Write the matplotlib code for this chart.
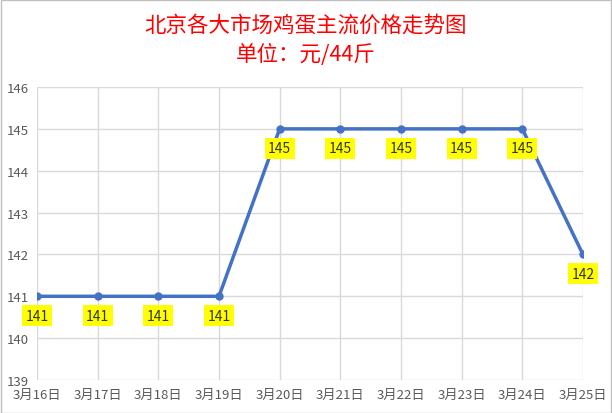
import matplotlib.pyplot as plt
from matplotlib.patches import Rectangle

plt.rcParams['font.family'] = ['Noto Sans CJK SC', 'DejaVu Sans']

dates = ["3月16日", "3月17日", "3月18日", "3月19日", "3月20日",
         "3月21日", "3月22日", "3月23日", "3月24日", "3月25日"]
prices = [141, 141, 141, 141, 145, 145, 145, 145, 145, 142]
yticks = [139, 140, 141, 142, 143, 144, 145, 146]

fig = plt.figure(figsize=(6.12, 4.14), dpi=100)
ax = fig.add_axes([0.0605, 0.0797, 0.892, 0.7077])

x = list(range(len(dates)))
ax.plot(x, prices, color="#4472C4", lw=2.5, marker="o", ms=5, zorder=3)

for xi, v in zip(x, prices):
    ax.annotate(str(v), (xi, v), xytext=(0, -14), textcoords="offset points",
                ha="center", va="center", fontsize=10, color="#333333",
                bbox=dict(boxstyle="square,pad=0.25", fc="#FFFF00", ec="none"),
                zorder=4)

ax.set_xlim(0, len(dates) - 1)
ax.set_ylim(139, 146)
ax.set_xticks(x)
ax.set_xticklabels(dates)
ax.set_yticks(yticks)
ax.grid(True, color="#D9D9D9", lw=1)
for s in ax.spines.values():
    s.set_visible(False)
ax.tick_params(length=0, labelsize=9.5, colors="#595959", pad=6)

fig.text(0.5, 0.937, "北京各大市场鸡蛋主流价格走势图", ha="center", va="center",
         fontsize=15.5, color="red")
fig.text(0.5, 0.867, "单位：元/44斤", ha="center", va="center",
         fontsize=15.5, color="red")

fig.patches.append(Rectangle((0.001, 0.001), 0.997, 0.997, transform=fig.transFigure,
                             fill=False, ec="#BFBFBF", lw=1))

fig.savefig("out.png", dpi=100)
